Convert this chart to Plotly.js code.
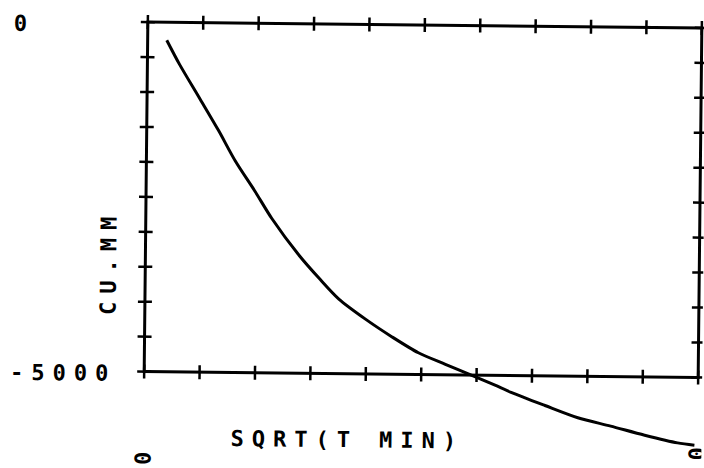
<!DOCTYPE html>
<html>
<head>
<meta charset="utf-8">
<script src="https://cdn.plot.ly/plotly-3.0.1.min.js"></script>
<style>
  html, body { margin: 0; padding: 0; background: #ffffff; overflow: hidden; }
  #chart { width: 704px; height: 468px; transform: rotate(0.6deg); transform-origin: 423px 200px; }
  text { letter-spacing: 8px; }
</style>
</head>
<body>
<div id="chart"></div>
<script>
// ---- data ----
const sqrtT = [0.69, 1.16, 1.88, 2.60, 3.21, 3.93, 4.55, 5.56, 6.28, 7.00, 7.98, 8.92,
               9.89, 10.87, 11.81, 12.67, 13.25, 14.48, 15.67, 16.86, 18.09, 19.28, 19.89];
const cuMM  = [-256, -600, -1071, -1545, -1974, -2403, -2791, -3320, -3640, -3934, -4220, -4463,
               -4689, -4850, -5000, -5142, -5242, -5425, -5595, -5710, -5835, -5940, -5970];

const xTickVals   = [0, 2, 4, 6, 8, 10, 12, 14, 16, 18, 20];
const yTickVals   = [0, -500, -1000, -1500, -2000, -2500, -3000, -3500, -4000, -4500, -5000];
const xLabelVals  = [0, 20];
const xLabelTexts = ['0', '20'];
const yLabelVals  = [0, -5000];
const yLabelTexts = ['0', '-5000'];
const xTitle = 'SQRT(T MIN)';
const yTitle = 'CU.MM';

const xMin = 0, xMax = 20, yTop = 0, yBottom = -5000;

// ---- styling ----
const ink = '#000000';
const font = { family: 'DejaVu Sans Mono, monospace', size: 22, color: ink, weight: 'bold' };
const tickHalf = 7;

const shapes = [];
// frame
shapes.push({ type: 'rect', xref: 'x', yref: 'y', x0: xMin, x1: xMax, y0: yBottom, y1: yTop,
              line: { color: ink, width: 3 }, fillcolor: 'rgba(0,0,0,0)' });
// x ticks crossing top and bottom edges
[yTop, yBottom].forEach(function (edge) {
  xTickVals.forEach(function (v) {
    shapes.push({ type: 'line', xref: 'x', yref: 'y', x0: v, x1: v,
                  ysizemode: 'pixel', yanchor: edge, y0: -tickHalf, y1: tickHalf,
                  line: { color: ink, width: 2.5 } });
  });
});
// y ticks crossing left and right edges
[xMin, xMax].forEach(function (edge) {
  yTickVals.forEach(function (v) {
    shapes.push({ type: 'line', xref: 'x', yref: 'y', y0: v, y1: v,
                  xsizemode: 'pixel', xanchor: edge, x0: -tickHalf, x1: tickHalf,
                  line: { color: ink, width: 2.5 } });
  });
});

const annotations = [];
yLabelVals.forEach(function (v, i) {
  annotations.push({ xref: 'paper', yref: 'y', x: -0.209, y: v, xanchor: 'left', yanchor: 'middle',
                     text: yLabelTexts[i], showarrow: false, font: font, yshift: -2 });
});
xLabelVals.forEach(function (v, i) {
  annotations.push({ xref: 'x', yref: 'paper', x: v, y: 0.005, xanchor: 'center', yanchor: 'middle',
                     text: xLabelTexts[i], textangle: -90, showarrow: false, font: font });
});
annotations.push({ xref: 'paper', yref: 'paper', x: 0.384, y: 0.0444, xanchor: 'center', yanchor: 'middle',
                   text: xTitle, showarrow: false, font: font });
annotations.push({ xref: 'paper', yref: 'paper', x: -0.0366, y: 0.433, xanchor: 'center', yanchor: 'middle',
                   text: yTitle, textangle: -90, showarrow: false, font: font });

const trace = {
  x: sqrtT, y: cuMM, type: 'scatter', mode: 'lines',
  line: { color: ink, width: 3, shape: 'spline', smoothing: 0.8 },
  hoverinfo: 'skip'
};

const layout = {
  width: 704, height: 468,
  margin: { l: 130, r: 0, t: 10, b: 8 },
  paper_bgcolor: '#ffffff', plot_bgcolor: '#ffffff',
  showlegend: false,
  xaxis: { range: [-0.5776, 20.144], visible: false, showgrid: false, zeroline: false, fixedrange: true },
  yaxis: { range: [-6223, 214.6], visible: false, showgrid: false, zeroline: false, fixedrange: true },
  shapes: shapes,
  annotations: annotations
};

Plotly.newPlot('chart', [trace], layout, { staticPlot: true, displayModeBar: false });
</script>
</body>
</html>
